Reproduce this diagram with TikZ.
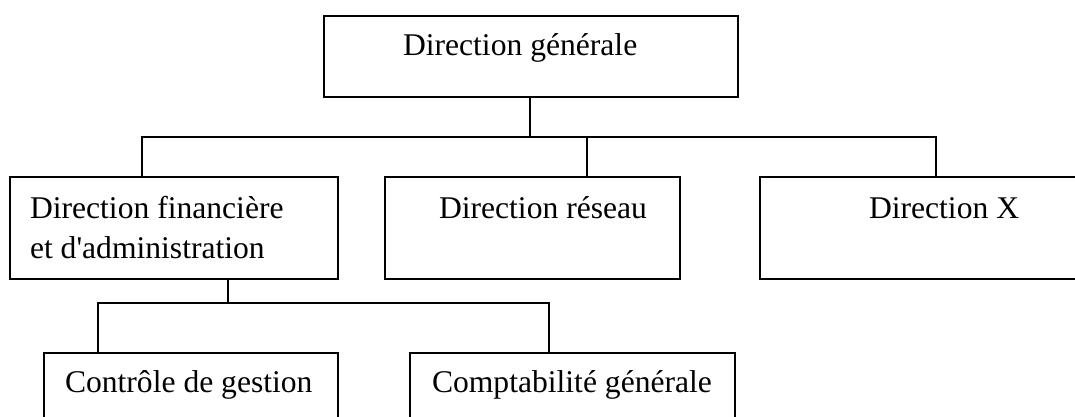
\documentclass[tikz,border=0pt]{standalone}
\usepackage{fontspec}
\setmainfont{Liberation Serif}
\usetikzlibrary{calc}
\begin{document}
\begin{tikzpicture}[x=1pt,y=-1pt,
  box/.style={draw=black, line width=1.8pt, rectangle, inner sep=0pt, outer sep=0pt, anchor=north west},
  txt/.style={inner sep=0pt, outer sep=0pt, anchor=base west, font=\fontsize{31.6}{40}\selectfont},
  link/.style={draw=black, line width=1.8pt}]
\useasboundingbox (0,0) rectangle (1075,416);
\clip (0,0) rectangle (1075,416);
\fill[white] (0,0) rectangle (1075,416);

% units
\node[box, minimum width=414pt, minimum height=81pt]  (dg)  at (324,16)  {};
\node[box, minimum width=328pt, minimum height=102pt] (df)  at (10,177)  {};
\node[box, minimum width=295pt, minimum height=102pt] (dr)  at (385,177) {};
\node[box, minimum width=330pt, minimum height=102pt] (dx)  at (760,177) {};
\node[box, minimum width=294pt, minimum height=100pt] (cg)  at (44,353)  {};
\node[box, minimum width=325pt, minimum height=100pt] (cpt) at (410,353) {};

% labels
\node[txt] (tdg)  at (403,55)  {Direction générale};
\node[txt] (tdf1) at (30,218)  {Direction financière};
\node[txt] (tdf2) at (30,258)  {et d\textquotesingle administration};
\node[txt] (tdr)  at (439,218) {Direction réseau};
\node[txt] (tdx)  at (869,218) {Direction X};
\node[txt] (tcg)  at (65,392)  {Contrôle de gestion};
\node[txt] (tcpt) at (432,392) {Comptabilité générale};

% bus levels
\coordinate (bus1) at (0,137);
\coordinate (bus2) at (0,303);

% first level
\draw[link] ($(dg.south)+(-1,0)$) coordinate (d0) -- (d0 |- bus1);
\draw[link] ($(df.north west)+(132,0)$) coordinate (d1) -- (d1 |- bus1) -| ($(dx.north west)+(176,0)$);
\draw[link] ($(dr.north west)+(202,0)$) coordinate (d2) -- (d2 |- bus1);

% second level
\draw[link] ($(df.south west)+(218,0)$) coordinate (d3) -- (d3 |- bus2);
\draw[link] ($(cg.north west)+(54,0)$) coordinate (d4) -- (d4 |- bus2) -| ($(cpt.north west)+(139,0)$);
\end{tikzpicture}
\end{document}
